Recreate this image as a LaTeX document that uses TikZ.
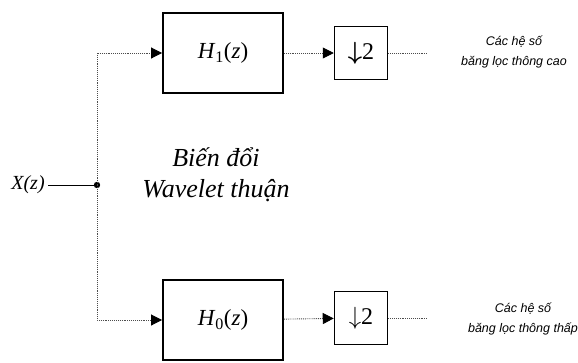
\documentclass[tikz,border=0pt]{standalone}
\usepackage{fontspec}
\setmainfont{Liberation Serif}
\newfontfamily\labelfont{Liberation Sans}
\usetikzlibrary{arrows.meta}
\begin{document}
\begin{tikzpicture}[x=1pt,y=-1pt,
  filterbox/.style={rectangle,minimum width=120pt,minimum height=80pt,draw,line width=1.9pt,font=\fontsize{23}{25}\selectfont},
  downbox/.style={rectangle,minimum width=53pt,minimum height=53pt,draw,line width=1.5pt,font=\fontsize{24}{26}\selectfont},
  wire/.style={densely dotted,line width=0.9pt,black!70},
  feed/.style={wire,-{Triangle[length=11pt,width=11pt,black]}},
  coeff/.style={font=\labelfont\itshape\fontsize{12.5}{20}\selectfont,align=center}]
\useasboundingbox (0,0) rectangle (578,362);
% input and branch point
\node[font=\itshape\fontsize{20}{22}\selectfont] (xin) at (28,185) {X(z)};
\coordinate (split) at (97,185);
\fill (split) circle (3.2pt);
% filters
\node[filterbox] (hone) at (223,53) {\textit{H}\textsubscript{1}(\textit{z})};
\node[filterbox] (hzero) at (223,320) {\textit{H}\textsubscript{0}(\textit{z})};
% downsamplers
\node[downbox] (dtop) at (361,53) {{\boldmath$\downarrow$}2};
\node[downbox] (dbot) at (361,318) {$\downarrow$2};
\coordinate (otop) at (428,53);
\coordinate (obot) at (428,318);
% outputs
\node[coeff] (ctop) at (514,52) {Các hệ số\\băng lọc thông cao};
\node[coeff] (cbot) at (523,319) {Các hệ số\\băng lọc thông thấp};
\node[font=\itshape\fontsize{26}{31}\selectfont,align=center] (title) at (216,175) {Biến đổi\\Wavelet thuận};
% connectors
\draw[line width=0.9pt] (xin) -- (split);
\draw[feed] (split) |- (hone);
\draw[feed] (split) |- (hzero);
\draw[feed] (hone) -- (dtop);
\draw[feed] (hzero) -- (dbot);
\draw[wire] (dtop) -- (otop);
\draw[wire] (dbot) -- (obot);
\end{tikzpicture}
\end{document}
